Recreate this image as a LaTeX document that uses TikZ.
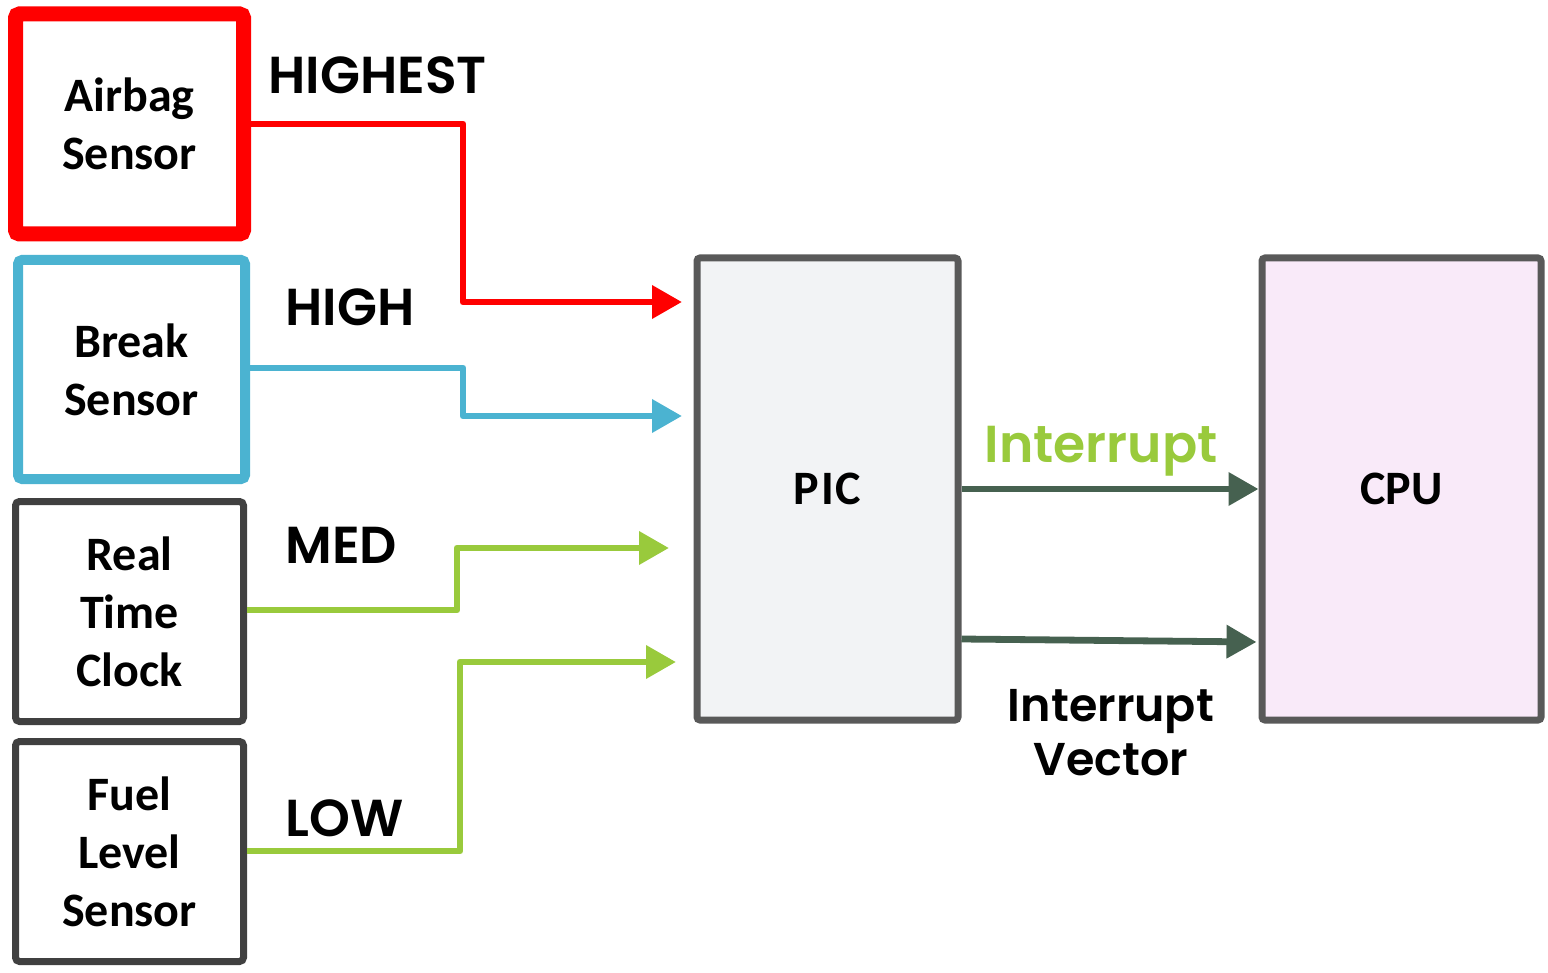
\documentclass[tikz,border=0pt]{standalone}
\usepackage{fontspec}
\setmainfont{Carlito}
\newfontfamily\labfont{Poppins SemiBold}
\usetikzlibrary{arrows.meta,calc}
\definecolor{cred}{HTML}{FF0000}
\definecolor{cblue}{HTML}{4BB3D1}
\definecolor{cgreen}{HTML}{99CA3C}
\definecolor{cdark}{HTML}{404040}
\definecolor{cpicb}{HTML}{595959}
\definecolor{cpicf}{HTML}{F2F3F5}
\definecolor{ccpuf}{HTML}{F9EAF9}
\definecolor{carr}{HTML}{466150}
\tikzset{
  srcbox/.style={draw, rounded corners=2pt, inner sep=0pt, minimum width=114pt, minimum height=110pt, align=center, font=\bfseries\fontsize{24}{29}\selectfont},
  bigbox/.style={draw=cpicb, line width=3.5pt, rounded corners=1.5pt, inner sep=0pt, minimum height=231pt, font=\bfseries\fontsize{24}{28}\selectfont},
  lab/.style={font=\labfont\fontsize{26}{30}\selectfont, inner sep=0pt},
  conn/.style={line width=3.4pt, line join=round, -{Triangle[length=15pt,width=16pt]}},
}
\begin{document}
\begin{tikzpicture}[x=0.5pt,y=-0.5pt]
\useasboundingbox (0,0) rectangle (1548,973);
% source boxes
\node[srcbox, draw=cred, line width=7.5pt] (air) at (129.5,124) {Airbag\\Sensor};
\node[srcbox, draw=cblue, line width=5pt, minimum width=113.5pt, minimum height=109.5pt] (brk) at (131.5,369.5) {Break\\Sensor};
\node[srcbox, draw=cdark, line width=3.5pt] (rtc) at (129.5,611.5) {Real\\Time\\Clock};
\node[srcbox, draw=cdark, line width=3.5pt] (fuel) at (129.5,851.5) {Fuel\\Level\\Sensor};
% PIC and CPU
\node[bigbox, fill=cpicf, minimum width=130.5pt] (pic) at (827.5,489) {P\kern1ptI\kern1ptC};
\node[bigbox, fill=ccpuf, minimum width=139.5pt] (cpu) at (1401.5,489) {CPU};
% arrow tips
\coordinate (t1) at (682,302);
\coordinate (t2) at (682,416);
\coordinate (t3) at (669,548);
\coordinate (t4) at (676,662);
% connectors
\draw[conn, cred] (air.east) -| (463,302) -- (t1);
\draw[conn, cblue] (brk.east |- 0,368) -| (463,416) -- (t2);
\draw[conn, cgreen] (rtc.east |- 0,610) -| (457,548) -- (t3);
\draw[conn, cgreen] (fuel.east |- 0,851) -| (460,662) -- (t4);
\coordinate (v1) at ($(pic.east)+(0,150)$);
\coordinate (v2) at ($(cpu.west)+(-2,153)$);
\draw[conn, carr] (pic.east) -- (cpu.west);
\draw[conn, carr] (v1) -- (v2);
% labels
\node[lab, anchor=west] (lhighest) at (268,75) {HIGHEST};
\node[lab, anchor=west] (lhigh) at (285,307) {HIGH};
\node[lab, anchor=west] (lmed) at (285,545) {MED};
\node[lab, anchor=west] (llow) at (285,818) {LOW};
\node[lab, text=cgreen] (lint) at (1101,451) {Interrupt};
\node[lab, align=center, font=\labfont\fontsize{23}{27}\selectfont] (lvec) at (1111,733) {Interrupt\\Vector};
\end{tikzpicture}
\end{document}
